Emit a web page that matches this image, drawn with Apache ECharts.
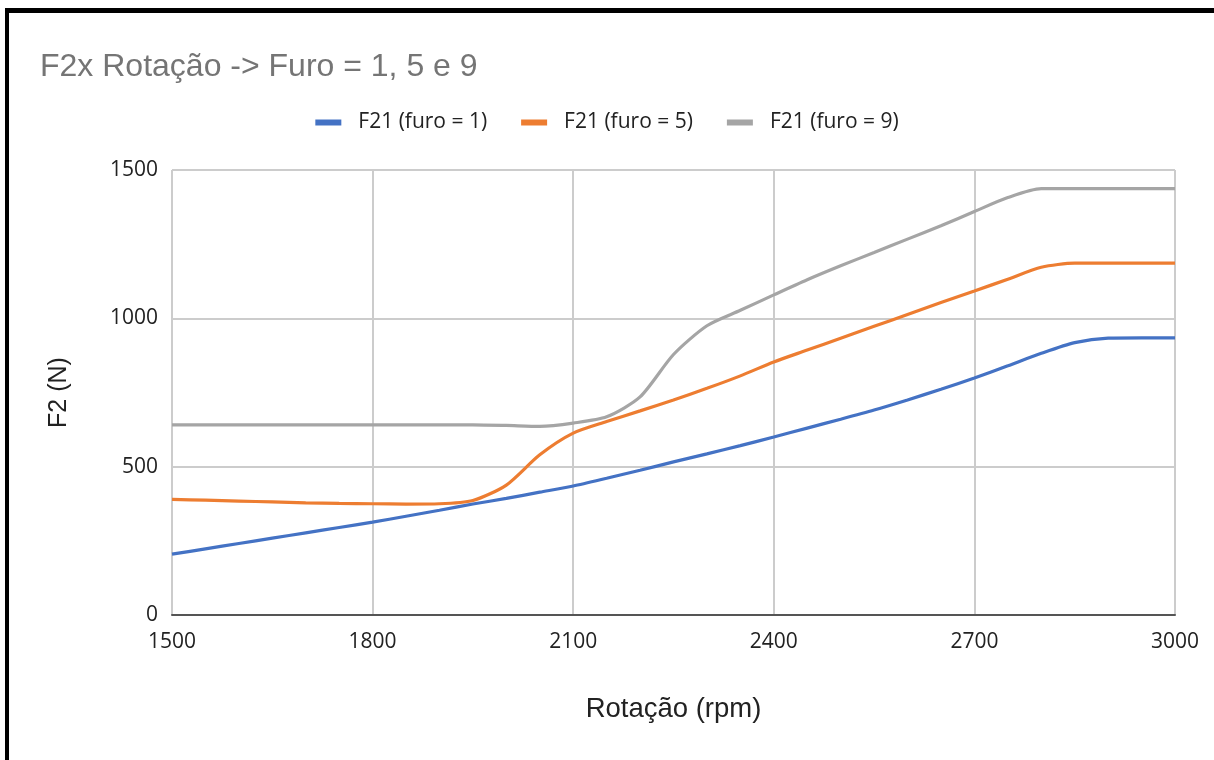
<!DOCTYPE html>
<html>
<head>
<meta charset="utf-8">
<script src="https://cdn.jsdelivr.net/npm/echarts@6/dist/echarts.min.js"></script>
<style>
html,body{margin:0;padding:0;background:#fff;}
#c{width:1214px;height:760px;}
</style>
</head>
<body>
<div id="c"></div>
<script>
var rpm = [1500,1550,1600,1650,1700,1750,1800,1850,1900,1950,2000,2050,2100,2150,2200,2250,2300,2350,2400,2450,2500,2550,2600,2650,2700,2750,2800,2850,2900,2950,3000];
var furo1 = [205,223,241,259,277,295,313,333,353,374,393,414,435,461,488,516,543,571,600,630,660,691,725,761,799,840,882,918,933,934,934];
var furo5 = [390,387,384,381,378,376,375,374,375,386,438,540,613,652,688,725,764,806,853,893,933,973,1013,1053,1092,1132,1172,1186,1186,1186,1186];
var furo9 = [641,641,641,641,641,641,641,641,641,641,639,636,647,668,735,878,975,1027,1079,1130,1177,1222,1267,1312,1360,1407,1437,1437,1437,1437,1437];
var seriesNames = ['F21 (furo = 1)','F21 (furo = 5)','F21 (furo = 9)'];
var xTicks = [1500,1800,2100,2400,2700,3000];
var yTicks = [0,500,1000,1500];
var colors = ['#4472C4','#ED7D31','#A5A5A5'];

function pairs(vals){ return rpm.map(function(x,i){ return [x, vals[i]]; }); }
var allVals = [furo1, furo5, furo9];

var chart = echarts.init(document.getElementById('c'), null, {renderer:'canvas'});
chart.setOption({
  animation:false,
  backgroundColor:'#fff',
  color: colors,
  title:{
    text:'F2x Rotação -> Furo = 1, 5 e 9',
    left:35, top:46,
    textStyle:{fontFamily:'Liberation Sans, Arial, sans-serif', fontSize:32, fontWeight:'normal', color:'#757575'}
  },
  legend:{
    top:107, left:'center',
    icon:'rect', itemWidth:26, itemHeight:6, itemGap:34,
    textStyle:{fontFamily:'Open Sans, sans-serif', fontSize:21, color:'#222', padding:[0,0,0,12]},
    data: seriesNames
  },
  grid:{left:172, right:39, top:170, bottom:145},
  xAxis:{
    type:'value', min:xTicks[0], max:xTicks[xTicks.length-1], interval:300,
    name:'Rotação (rpm)', nameLocation:'middle', nameGap:80,
    nameTextStyle:{fontFamily:'Liberation Sans, Arial, sans-serif', fontSize:27.5, color:'#222'},
    axisLine:{show:true, lineStyle:{color:'#555', width:2}},
    axisTick:{show:false},
    axisLabel:{fontFamily:'Open Sans, sans-serif', fontSize:21, color:'#222', margin:17,
      formatter:function(v){return String(v);}},
    splitLine:{show:true, lineStyle:{color:'#cccccc', width:2}}
  },
  yAxis:{
    type:'value', min:yTicks[0], max:yTicks[yTicks.length-1], interval:500,
    name:'F2 (N)', nameLocation:'middle', nameGap:100,
    nameTextStyle:{fontFamily:'Liberation Sans, Arial, sans-serif', fontSize:25, color:'#222'},
    axisLine:{show:false}, axisTick:{show:false},
    axisLabel:{fontFamily:'Open Sans, sans-serif', fontSize:21, color:'#222', margin:14,
      formatter:function(v){return String(v);}},
    splitLine:{show:true, lineStyle:{color:'#cccccc', width:2}}
  },
  series: seriesNames.map(function(n,i){
    return {
      name:n, type:'line', data:pairs(allVals[i]),
      showSymbol:false, smooth:0.25,
      lineStyle:{width:3.2, color:colors[i]},
      itemStyle:{color:colors[i]},
      z: 3-i
    };
  }),
  graphic:[
    {type:'rect', shape:{x:5, y:8, width:1209, height:5}, style:{fill:'#000'}, silent:true},
    {type:'rect', shape:{x:5, y:8, width:4, height:752}, style:{fill:'#000'}, silent:true},
    {type:'rect', shape:{x:1174, y:170, width:2, height:445}, style:{fill:'#cccccc'}, silent:true}
  ]
});
</script>
</body>
</html>
